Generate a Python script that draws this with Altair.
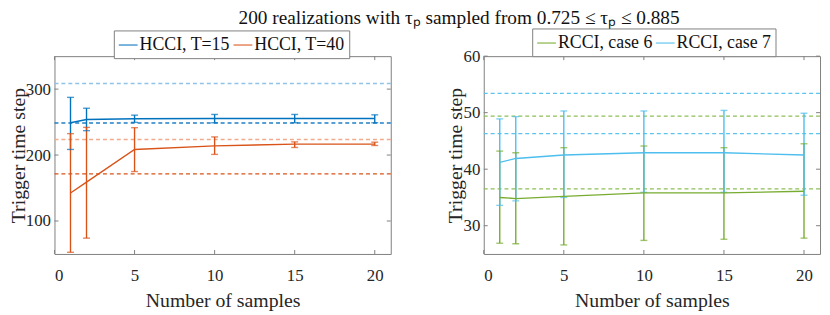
import altair as alt
import pandas as pd

# ---------------- data ----------------
samples = [1, 2, 5, 10, 15, 20]

# left panel: HCCI
hcci15_mean = [249, 254, 255, 255.5, 255.5, 255.5]
hcci15_lo = [208.5, 237, 249.6, 249, 249, 249]
hcci15_hi = [287.5, 271, 260.5, 261.6, 261.6, 261]
hcci40_mean = [142.5, 159, 208.5, 214, 216.5, 216.5]
hcci40_lo = [52.5, 74, 175, 201, 211.5, 214.5]
hcci40_hi = [232.5, 242, 241.5, 227.5, 220, 219.5]
hcci15_ref = [308.5, 248.6]
hcci40_ref = [223.6, 171.5]

# right panel: RCCI
case6_mean = [35.0, 34.8, 35.2, 35.8, 35.8, 36.1]
case6_lo = [26.9, 26.8, 26.6, 27.4, 27.6, 27.8]
case6_hi = [43.2, 42.9, 43.8, 44.1, 43.8, 44.5]
case7_mean = [41.2, 41.9, 42.5, 42.9, 42.9, 42.5]
case7_lo = [33.6, 34.4, 35.0, 35.9, 35.9, 35.4]
case7_hi = [48.9, 49.3, 50.3, 50.3, 50.4, 49.9]
case6_ref = [49.4, 36.5]
case7_ref = [53.4, 46.3]

x_ticks = [0, 5, 10, 15, 20]
left_y_ticks = [100, 200, 300]
right_y_ticks = [30, 40, 50, 60]

names_left = ["HCCI, T=15", "HCCI, T=40"]
names_right = ["RCCI, case 6", "RCCI, case 7"]

BLUE, ORANGE, GREEN, LBLUE = "#0072BD", "#D95319", "#77AC30", "#4DBEEE"
FONT = "Liberation Serif"
W, H = 340, 200
XT = "Number of samples"
YT = "Trigger time step"


def series_df(name, mean, lo, hi):
    return pd.DataFrame({"series": name, "x": samples, "mean": mean, "lo": lo, "hi": hi})


def panel(names, colors, means, los, his, refs, ref_colors, ydomain, yticks, lx, ly):
    df = pd.concat([series_df(n, m, l, h) for n, m, l, h in zip(names, means, los, his)])
    cscale = alt.Scale(domain=names, range=colors)
    color = alt.Color(
        "series:N",
        scale=cscale,
        legend=alt.Legend(
            title=None, orient="none", legendX=lx, legendY=ly, direction="horizontal",
            symbolType="stroke", symbolSize=361, symbolStrokeWidth=1.5,
            labelFont=FONT, labelFontSize=18, labelColor="#111", labelOffset=1,
            columnPadding=0, strokeColor="#808080", fillColor="white", padding=4,
            cornerRadius=0,
        ),
    )
    xs = alt.Scale(domain=[0, 21], nice=False)
    ys = alt.Scale(domain=ydomain, nice=False, zero=False)
    xax = alt.Axis(values=x_ticks, labelPadding=14, titlePadding=7)
    yax = alt.Axis(values=yticks, labelPadding=4, titlePadding=-3)
    X = alt.X("x:Q", scale=xs, axis=xax, title=XT)
    base = alt.Chart(df)
    line = base.mark_line(strokeWidth=1.4).encode(x=X, y=alt.Y("mean:Q", scale=ys, axis=yax, title=YT), color=color)
    bars = base.mark_rule(strokeWidth=1.4).encode(
        x=X, y=alt.Y("lo:Q", scale=ys, axis=yax, title=YT), y2=alt.Y2("hi:Q", title=YT), color=color)
    cap_lo = base.mark_tick(orient="horizontal", size=7, thickness=1.4).encode(
        x=X, y=alt.Y("lo:Q", scale=ys, axis=yax, title=YT), color=color)
    cap_hi = base.mark_tick(orient="horizontal", size=7, thickness=1.4).encode(
        x=X, y=alt.Y("hi:Q", scale=ys, axis=yax, title=YT), color=color)

    layers = []
    for vals, cols in zip(refs, ref_colors):
        for v, col in zip(vals, cols):
            layers.append(
                alt.Chart(pd.DataFrame({"v": [v]})).mark_rule(
                    strokeDash=[4, 3], strokeWidth=1.3, color=col
                ).encode(y=alt.Y("v:Q", scale=ys, axis=yax, title=YT))
            )
    # inward tick marks (MATLAB style)
    ytk = alt.Chart(pd.DataFrame({"v": yticks}))
    xtk = alt.Chart(pd.DataFrame({"v": x_ticks}))
    tick_style = dict(color="#808080", strokeWidth=1)
    layers += [
        ytk.mark_rule(**tick_style).encode(y=alt.Y("v:Q", scale=ys, axis=yax, title=YT), x=alt.value(0), x2=alt.value(4)),
        ytk.mark_rule(**tick_style).encode(y=alt.Y("v:Q", scale=ys, axis=yax, title=YT), x=alt.value(W), x2=alt.value(W - 4)),
        xtk.mark_rule(**tick_style).encode(x=alt.X("v:Q", scale=xs, axis=xax, title=XT), y=alt.value(H), y2=alt.value(H - 4)),
        xtk.mark_rule(**tick_style).encode(x=alt.X("v:Q", scale=xs, axis=xax, title=XT), y=alt.value(0), y2=alt.value(4)),
    ]
    layers += [bars, cap_lo, cap_hi, line]
    return alt.layer(*layers).properties(width=W, height=H)


left = panel(
    names_left, [BLUE, ORANGE],
    [hcci15_mean, hcci40_mean], [hcci15_lo, hcci40_lo], [hcci15_hi, hcci40_hi],
    [hcci15_ref, hcci40_ref], [("#8EC3EA", "#1F7FC6"), ("#F2AA8C", "#D95319")],
    [50, 350], left_y_ticks, 60, -26,
)
right = panel(
    names_right, [GREEN, LBLUE],
    [case6_mean, case7_mean], [case6_lo, case7_lo], [case6_hi, case7_hi],
    [case6_ref, case7_ref], [("#8DBE55", "#8DBE55"), ("#5CC3EE", "#5CC3EE")],
    [25, 60], right_y_ticks, 49, -28,
)

chart = (
    alt.hconcat(left, right, spacing=53)
    .resolve_scale(color="independent", y="independent")
    .resolve_legend(color="independent")
    .properties(
        title=alt.TitleParams(
            "200 realizations with τₚ sampled from 0.725 ≤ τₚ ≤ 0.885",
            font=FONT, fontSize=19.5, fontWeight="normal", color="#111",
            anchor="middle", dx=45, offset=-1,
        ),
        padding={"left": 0, "top": -2, "right": 0, "bottom": 0},
    )
    .configure_view(stroke="#808080", strokeWidth=1)
    .configure_axis(
        domain=False, ticks=False, grid=False,
        labelFont=FONT, labelFontSize=17, labelColor="#262626",
        titleFont=FONT, titleFontSize=20, titleFontWeight="normal", titleColor="#262626",
    )
)

chart.save("out.html", embed_options={"renderer": "svg", "actions": False})
